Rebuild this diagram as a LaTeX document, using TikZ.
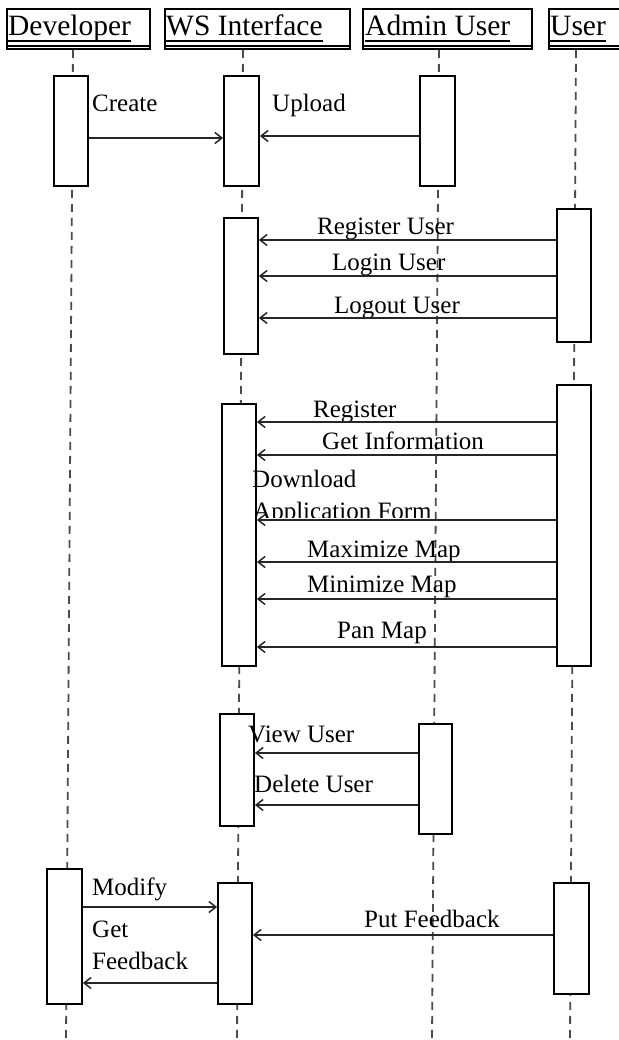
\documentclass[tikz,border=0pt]{standalone}
\usepackage{fontspec}
\setmainfont{Liberation Serif}
\usetikzlibrary{arrows.meta}
\begin{document}
\begin{tikzpicture}[x=1pt,y=-1pt,
  hdrbox/.style={draw=black, line width=1.8pt, fill=white, anchor=north west, inner sep=0pt},
  hdrtxt/.style={anchor=base west, inner sep=0pt, font=\fontsize{29.5}{32}\selectfont},
  act/.style={draw=black, line width=1.8pt, fill=white, inner sep=0pt},
  lbl/.style={anchor=base west, inner sep=0pt, font=\fontsize{25}{28}\selectfont},
  life/.style={draw=black!70, line width=1.8pt, dash pattern=on 8pt off 6pt},
  msg/.style={draw=black!85, line width=1.7pt, -{Straight Barb[length=7pt,width=11pt,line width=1.5pt]}},
  uline/.style={draw=black, line width=1.6pt}
]
\useasboundingbox (0,0) rectangle (618,1040);
\fill[white] (0,0) rectangle (618,1040);

% header boxes
\node[hdrbox, minimum width=143pt, minimum height=40pt] (hdev) at (6,8) {};
\node[hdrbox, minimum width=185pt, minimum height=40pt] (hws) at (164,8) {};
\node[hdrbox, minimum width=169pt, minimum height=40pt] (hadm) at (362,8) {};
\node[hdrbox, minimum width=80pt, minimum height=40pt] (husr) at (548,8) {};

% lifeline ends
\coordinate (devend) at (66,1040);
\coordinate (wsend) at (237,1040);
\coordinate (admend) at (432,1040);
\coordinate (usrend) at (570,1040);

% lifelines
\draw[life] (hdev.south -| 73,0) -- (devend);
\draw[life] (hws.south -| 243,0) -- (wsend);
\draw[life] (hadm.south -| 439,0) -- (admend);
\draw[life] (husr.south -| 576,0) -- (usrend);

% header texts
\node[hdrtxt] (tdev) at (8,36) {Developer};
\node[hdrtxt] (tws) at (166,36) {WS Interface};
\node[hdrtxt] (tadm) at (365,36) {Admin User};
\node[hdrtxt] (tusr) at (550,36) {User};
\foreach \h/\t in {hdev/tdev, hws/tws, hadm/tadm, husr/tusr}{
  \draw[uline] ([yshift=-5pt]\t.base west) -- ([yshift=-5pt]\t.base east);
  \draw[uline] ([yshift=4pt]\h.south west) -- ([yshift=4pt]\h.south east);
}

% activation boxes
\node[act, minimum width=34pt, minimum height=110pt] (dev1) at (71,131) {};
\node[act, minimum width=35pt, minimum height=110pt] (ws1) at (241.5,131) {};
\node[act, minimum width=35pt, minimum height=110pt] (adm1) at (437.5,131) {};
\node[act, minimum width=34pt, minimum height=136pt] (ws2) at (241,286) {};
\node[act, minimum width=34pt, minimum height=133pt] (usr1) at (574,275.5) {};
\node[act, minimum width=34pt, minimum height=262pt] (ws3) at (239,535) {};
\node[act, minimum width=34pt, minimum height=281pt] (usr2) at (574,525.5) {};
\node[act, minimum width=34pt, minimum height=112pt] (ws4) at (237,770) {};
\node[act, minimum width=33pt, minimum height=110pt] (adm2) at (435.5,779) {};
\node[act, minimum width=35pt, minimum height=135pt] (dev2) at (64.5,936.5) {};
\node[act, minimum width=34pt, minimum height=121pt] (ws5) at (235,943.5) {};
\node[act, minimum width=35pt, minimum height=111pt] (usr3) at (571.5,938.5) {};

% labels
\node[lbl] (lcreate) at (92,112) {Create};
\node[lbl] (lupload) at (272,112) {Upload};
\node[lbl] (lreguser) at (317,235) {Register User};
\node[lbl] (llogin) at (332,271) {Login User};
\node[lbl] (llogout) at (334,313) {Logout User};
\node[lbl] (lreg) at (313,417) {Register};
\node[lbl] (lgetinfo) at (322,449) {Get Information};
\node[lbl] (ldown) at (252,487) {Download};
\begin{scope}
  \clip (240,495) rectangle (460,517);
  \node[lbl] (lappform) at (253,519) {Application Form};
\end{scope}
\node[lbl] (lmax) at (307,557) {Maximize Map};
\node[lbl] (lmin) at (307,592) {Minimize Map};
\node[lbl] (lpan) at (337,638) {Pan Map};
\node[lbl] (lview) at (248,742) {View User};
\node[lbl] (ldel) at (254,792) {Delete User};
\node[lbl] (lmod) at (92,895) {Modify};
\node[lbl] (lget) at (92,937) {Get};
\node[lbl] (lfeed) at (92,969) {Feedback};
\node[lbl] (lput) at (364,927) {Put Feedback};

% messages
\draw[msg] (dev1.east |- 0,138) -- (ws1.west |- 0,138);
\draw[msg] (adm1.west |- 0,136) -- (ws1.east |- 0,136);
\draw[msg] (usr1.west |- 0,240) -- (ws2.east |- 0,240);
\draw[msg] (usr1.west |- 0,276) -- (ws2.east |- 0,276);
\draw[msg] (usr1.west |- 0,318) -- (ws2.east |- 0,318);
\draw[msg] (usr2.west |- 0,422) -- (ws3.east |- 0,422);
\draw[msg] (usr2.west |- 0,455) -- (ws3.east |- 0,455);
\draw[msg] (usr2.west |- 0,520) -- (ws3.east |- 0,520);
\draw[msg] (usr2.west |- 0,562) -- (ws3.east |- 0,562);
\draw[msg] (usr2.west |- 0,599) -- (ws3.east |- 0,599);
\draw[msg] (usr2.west |- 0,647) -- (ws3.east |- 0,647);
\draw[msg] (adm2.west |- 0,753) -- (ws4.east |- 0,753);
\draw[msg] (adm2.west |- 0,805) -- (ws4.east |- 0,805);
\draw[msg] (dev2.east |- 0,907) -- (ws5.west |- 0,907);
\draw[msg] (ws5.west |- 0,983) -- (dev2.east |- 0,983);
\draw[msg] (usr3.west |- 0,935) -- (ws5.east |- 0,935);
\end{tikzpicture}
\end{document}
